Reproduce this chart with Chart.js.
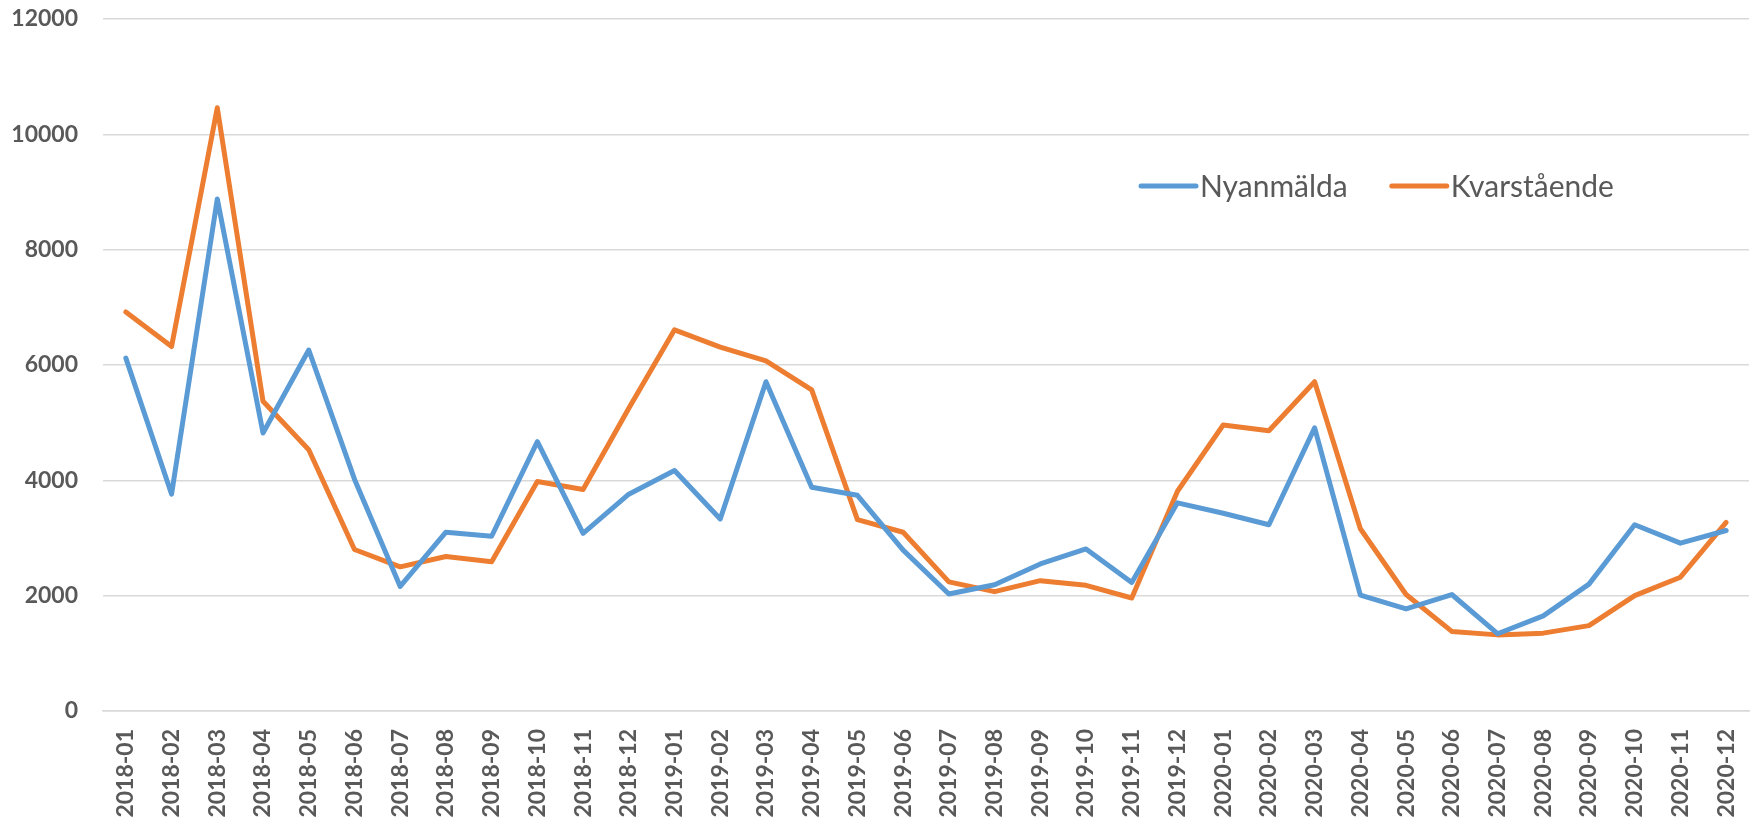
<!DOCTYPE html>
<html>
<head>
<meta charset="utf-8">
<script src="https://cdn.jsdelivr.net/npm/chart.js@4/dist/chart.umd.min.js"></script>
<style>
  html, body { margin: 0; padding: 0; background: #fff; }
  #wrap { width: 1754px; height: 825px; position: relative; }
</style>
</head>
<body>
<div id="wrap"><canvas id="chart"></canvas></div>
<script>
// --- Data ---
const months = [
  '2018-01','2018-02','2018-03','2018-04','2018-05','2018-06','2018-07','2018-08','2018-09','2018-10','2018-11','2018-12',
  '2019-01','2019-02','2019-03','2019-04','2019-05','2019-06','2019-07','2019-08','2019-09','2019-10','2019-11','2019-12',
  '2020-01','2020-02','2020-03','2020-04','2020-05','2020-06','2020-07','2020-08','2020-09','2020-10','2020-11','2020-12'
];
const nyanmalda = [
  6120, 3760, 8880, 4820, 6260, 4020, 2160, 3100, 3030, 4670, 3080, 3760,
  4170, 3330, 5710, 3880, 3740, 2790, 2030, 2190, 2550, 2810, 2230, 3610,
  3430, 3230, 4910, 2010, 1770, 2020, 1340, 1650, 2200, 3230, 2910, 3130
];
const kvarstaende = [
  6920, 6320, 10460, 5370, 4530, 2800, 2500, 2680, 2590, 3980, 3840, 5250,
  6610, 6310, 6070, 5570, 3320, 3100, 2240, 2070, 2260, 2180, 1960, 3810,
  4960, 4860, 5710, 3160, 2020, 1380, 1320, 1350, 1480, 2000, 2320, 3270
];
const seriesNames = ['Nyanmälda', 'Kvarstående'];
const yTicks = { min: 0, max: 12000, step: 2000 };

const BLUE = '#5B9BD5';
const ORANGE = '#ED7D31';
const TEXT = '#595959';

// legend drawn inside the plot area, like the original
const insideLegend = {
  id: 'insideLegend',
  afterDraw(chart) {
    const { ctx } = chart;
    const y = 186;
    let x = 1141;
    ctx.save();
    ctx.font = '30px Lato';
    ctx.textBaseline = 'middle';
    chart.data.datasets.forEach(ds => {
      ctx.strokeStyle = ds.borderColor;
      ctx.lineWidth = 5;
      ctx.lineCap = 'round';
      ctx.beginPath();
      ctx.moveTo(x, y);
      ctx.lineTo(x + 55, y);
      ctx.stroke();
      x += 59;
      ctx.fillStyle = TEXT;
      ctx.fillText(ds.label, x, y + 1);
      x += ctx.measureText(ds.label).width + 44;
    });
    ctx.restore();
  }
};

new Chart(document.getElementById('chart'), {
  type: 'line',
  data: {
    labels: months,
    datasets: [
      { label: seriesNames[0], data: nyanmalda, borderColor: BLUE, backgroundColor: BLUE },
      { label: seriesNames[1], data: kvarstaende, borderColor: ORANGE, backgroundColor: ORANGE }
    ]
  },
  options: {
    responsive: true,
    maintainAspectRatio: false,
    animation: false,
    layout: { padding: { top: 19, right: 5, left: 0, bottom: 0 } },
    elements: {
      line: { borderWidth: 5, tension: 0, borderJoinStyle: 'round', borderCapStyle: 'round' },
      point: { radius: 0, hoverRadius: 0 }
    },
    plugins: { legend: { display: false }, tooltip: { enabled: false } },
    scales: {
      x: {
        offset: true,
        grid: { display: false, drawTicks: false },
        border: { display: true, color: '#d9d9d9', width: 1.5 },
        ticks: {
          autoSkip: false, maxRotation: 90, minRotation: 90, padding: 18,
          color: TEXT, font: { family: 'Lato', size: 23, weight: 'bold' }
        },
        afterFit(scale) {
          scale.height = 114;
          scale.paddingLeft = 0;
          scale.paddingRight = 0;
        }
      },
      y: {
        min: yTicks.min, max: yTicks.max,
        grid: { color: '#d9d9d9', lineWidth: 1.5, drawTicks: false },
        border: { display: false },
        ticks: {
          stepSize: yTicks.step, padding: 25,
          color: TEXT, font: { family: 'Lato', size: 23, weight: 'bold' },
          callback: v => String(v)
        },
        afterFit(scale) {
          scale.width = 103;
          scale.paddingTop = 0;
          scale.paddingBottom = 0;
        }
      }
    }
  },
  plugins: [insideLegend]
});
</script>
</body>
</html>
